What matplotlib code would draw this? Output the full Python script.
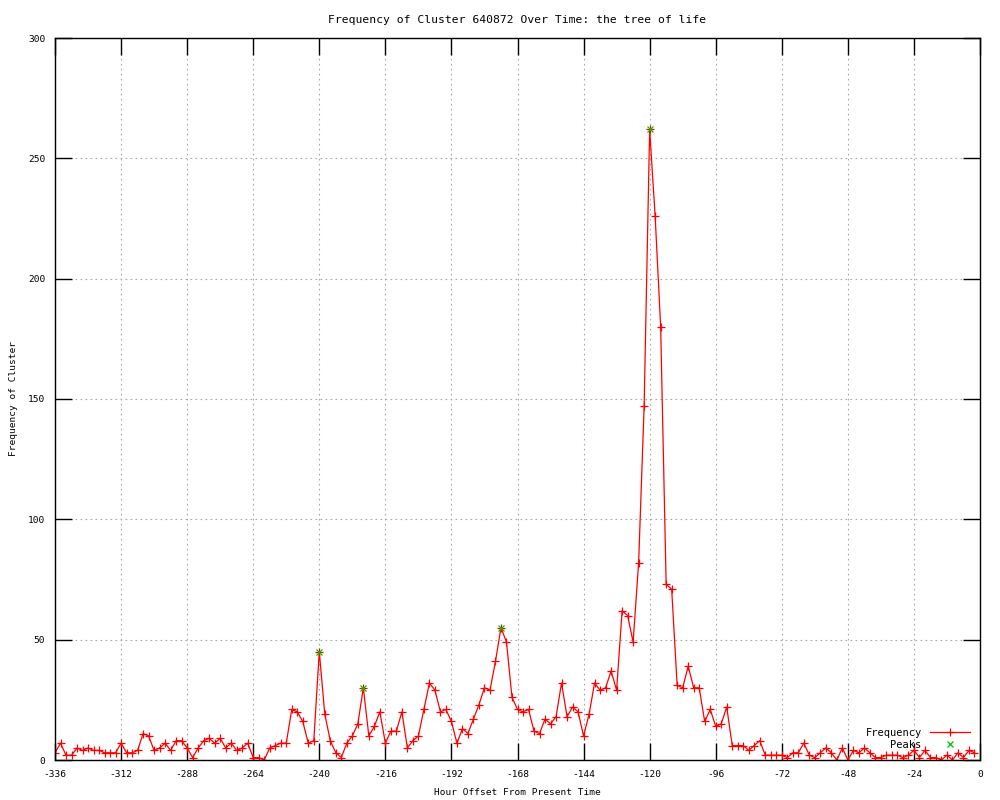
import matplotlib
matplotlib.use("Agg")
import matplotlib.pyplot as plt

# Hour offsets (every 2 hours) and cluster frequency
hours = list(range(-336, 0, 2))
freq = [3, 7, 2, 2, 5, 4, 5, 4, 4, 3, 3, 3, 7, 3, 3, 4, 11, 10, 4, 5,
        7, 4, 8, 8, 5, 1, 5, 8, 9, 7, 9, 5, 7, 4, 5, 7, 1, 1, 0, 5,
        6, 7, 7, 21, 20, 16, 7, 8, 45, 19, 8, 3, 1, 7, 10, 15, 30, 10, 14, 20,
        7, 12, 12, 20, 5, 8, 10, 21, 32, 29, 20, 21, 16, 7, 13, 11, 17, 23, 30, 29,
        41, 55, 49, 26, 21, 20, 21, 12, 11, 17, 15, 18, 32, 18, 22, 20, 10, 19, 32, 29,
        30, 37, 29, 62, 60, 49, 82, 147, 262, 226, 180, 73, 71, 31, 30, 39, 30, 30, 16, 21,
        14, 15, 22, 6, 6, 6, 4, 6, 8, 2, 2, 2, 2, 1, 3, 3, 7, 2, 1, 3,
        5, 3, 0, 5, 0, 4, 3, 5, 3, 1, 1, 2, 2, 2, 1, 2, 4, 1, 4, 1,
        1, 0, 2, 0, 3, 1, 4, 3]

peak_hours = [-240, -224, -174, -120]
peak_values = [45, 30, 55, 262]

xticks = list(range(-336, 1, 24))
yticks = list(range(0, 301, 50))

plt.rcParams['font.family'] = ['DejaVu Sans Mono']
plt.rcParams['font.size'] = 6.8
plt.rcParams['axes.unicode_minus'] = False

fig = plt.figure(figsize=(10, 8), dpi=100)
ax = fig.add_axes([0.055, 0.05, 0.925, 0.9025])

ax.plot(hours, freq, color='red', lw=0.9, marker='+', ms=6, mew=0.9, label='Frequency')
ax.plot(peak_hours, peak_values, ls='none', color='#00c000', marker='x', ms=5, mew=0.9, label='Peaks')

ax.set_xlim(-336, 0)
ax.set_ylim(0, 300)
ax.set_xticks(xticks)
ax.set_yticks(yticks)
ax.tick_params(direction='in', length=12, width=1, top=True, right=True, pad=7)
ax.grid(True, color='#a8a8a8', linestyle=(0, (1.5, 3)), linewidth=0.8)
ax.set_axisbelow(True)
for s in ax.spines.values():
    s.set_linewidth(1)

ax.set_title('Frequency of Cluster 640872 Over Time: the tree of life', pad=11)
ax.set_xlabel('Hour Offset From Present Time', labelpad=7)
ax.set_ylabel('Frequency of Cluster', labelpad=7)

ax.legend(loc='lower right', frameon=False, markerfirst=False, handlelength=3.8,
          labelspacing=0.15, borderaxespad=0.6, handletextpad=0.8, fontsize=7.5)

fig.savefig('out.png', dpi=100)
